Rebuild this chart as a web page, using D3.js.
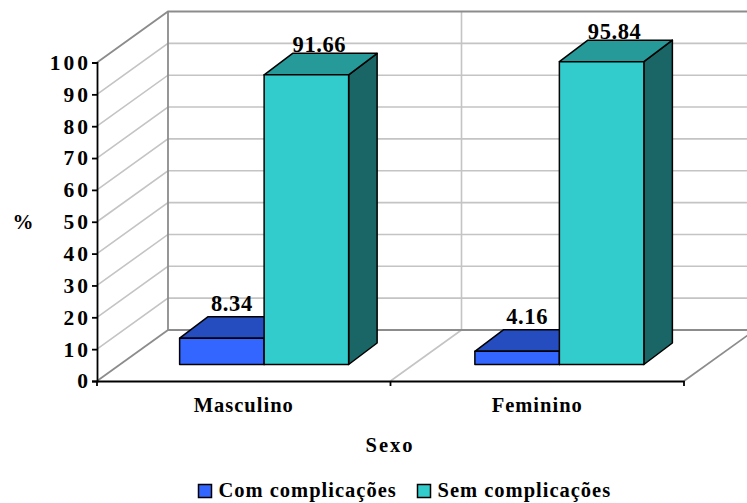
<!DOCTYPE html>
<html>
<head>
<meta charset="utf-8">
<script src="https://cdn.jsdelivr.net/npm/d3@7"></script>
<style>
html, body { margin: 0; padding: 0; background: #fff; }
svg { display: block; }
text { font-family: "Liberation Serif", serif; font-weight: bold; fill: #000; }
</style>
</head>
<body>
<svg id="chart" width="747" height="503"></svg>
<script>
const categories = ["Masculino", "Feminino"];
const seriesNames = ["Com complicações", "Sem complicações"];
const comValues = [8.34, 4.16];
const semValues = [91.66, 95.84];
const valueLabels = [["8.34", "4.16"], ["91.66", "95.84"]];
const yTicks = [0, 10, 20, 30, 40, 50, 60, 70, 80, 90, 100];
const palette = [
  { front: "#3366ff", top: "#264dbf", side: "#1f3f9c" },
  { front: "#33cccc", top: "#269999", side: "#1a6666" }
];

const svg = d3.select("#chart");

// Box geometry of the pseudo-3D plot
const left = 97, right = 684, floorY = 381, topY = 62.5;
const depthX = 71, depthY = -51;
const barDepthX = 28.5, barDepthY = -21.5, barBase = 364.5;

const y = d3.scaleLinear().domain([0, 100]).range([floorY, topY]);
const x = d3.scaleBand().domain(categories).range([left, right]);
const barHeight = d3.scaleLinear().domain([0, 100]).range([0, 316]);
const barGroup = d3.scaleBand().domain(categories).range([116.5, 707]);
const seriesWidth = 84.5;

const GRID = "#c4c4c4", WALL = "#8c8c8c";
const walls = svg.append("g").attr("fill", "none");

// Gridlines on the side and back walls
yTicks.filter(t => t > 0 && t < 100).forEach(t => {
  walls.append("path")
    .attr("d", `M${left},${y(t)}L${left + depthX},${y(t) + depthY}H747`)
    .attr("stroke", GRID).attr("stroke-width", 1.6);
});

// Category divider across the floor and up the back wall
const mid = x(categories[1]);
walls.append("path")
  .attr("d", `M${mid},${floorY}L${mid + depthX},${floorY + depthY}V${topY + depthY}`)
  .attr("stroke", GRID).attr("stroke-width", 1.6);

// Wall and floor outline
walls.append("path")
  .attr("d", `M${left},${topY}L${left + depthX},${topY + depthY}H747`)
  .attr("stroke", WALL).attr("stroke-width", 1.8);
walls.append("path")
  .attr("d", `M${left + depthX},${topY + depthY}V${floorY + depthY}H747`)
  .attr("stroke", WALL).attr("stroke-width", 1.8);
walls.append("path")
  .attr("d", `M${left},${floorY}L${left + depthX},${floorY + depthY}`)
  .attr("stroke", WALL).attr("stroke-width", 1.8);
walls.append("path")
  .attr("d", `M${right},${floorY}L${right + depthX},${floorY + depthY}`)
  .attr("stroke", WALL).attr("stroke-width", 1.8);

// One cuboid per series and category
function cuboid(g, x0, x1, h, colors) {
  const t = barBase - h;
  const edge = { stroke: "#000", "stroke-width": 1.5, "stroke-linejoin": "round" };
  const face = (d, fill) => {
    const p = g.append("path").attr("d", d).attr("fill", fill);
    Object.entries(edge).forEach(([k, v]) => p.attr(k, v));
  };
  face(`M${x1},${barBase}V${t}l${barDepthX},${barDepthY}V${barBase + barDepthY}Z`, colors.side);
  face(`M${x0},${t}H${x1}l${barDepthX},${barDepthY}H${x0 + barDepthX}Z`, colors.top);
  face(`M${x0},${barBase}V${t}H${x1}V${barBase}Z`, colors.front);
}

const bars = svg.append("g");
const valueText = svg.append("g").attr("text-anchor", "middle")
  .style("font-size", "22.5px").style("letter-spacing", "0.6px");

[comValues, semValues].forEach((values, s) => {
  values.forEach((v, c) => {
    const centre = barGroup(categories[c]) + barGroup.bandwidth() / 2;
    const x0 = centre + (s - 1) * seriesWidth;
    const h = barHeight(v);
    cuboid(bars, x0, x0 + seriesWidth, h, palette[s]);
    valueText.append("text")
      .attr("x", x0 + seriesWidth / 2 + (s === 0 ? 10 : 13))
      .attr("y", barBase - h + barDepthY - (s === 0 ? 5.5 : 1.5))
      .text(valueLabels[s][c]);
  });
});
valueText.raise();

// Value axis
const yAxis = d3.axisLeft(y).tickValues(yTicks).tickSize(5).tickPadding(1);
const yG = svg.append("g").attr("transform", `translate(${left},0)`).call(yAxis);
yG.select(".domain").attr("stroke", "#000").attr("stroke-width", 1.8);
yG.selectAll(".tick line").attr("stroke", "#000").attr("stroke-width", 1.8);
yG.selectAll(".tick text")
  .style("font-family", '"Liberation Serif", serif').style("font-weight", "bold")
  .style("font-size", "21.5px").style("letter-spacing", "3px").attr("fill", "#000");

// Category axis
const xAxis = d3.axisBottom(x).tickSize(0).tickPadding(16);
const xG = svg.append("g").attr("transform", `translate(0,${floorY})`).call(xAxis);
xG.select(".domain").attr("stroke", "#000").attr("stroke-width", 1.8);
xG.selectAll(".tick text")
  .style("font-family", '"Liberation Serif", serif').style("font-weight", "bold")
  .style("font-size", "20.5px").style("letter-spacing", "1px").attr("fill", "#000");
[left, mid, right].forEach(px => {
  xG.append("line").attr("x1", px).attr("x2", px).attr("y1", 0).attr("y2", 5)
    .attr("stroke", "#000").attr("stroke-width", 1.8);
});

// Axis titles
svg.append("text").attr("x", 23).attr("y", 229).attr("text-anchor", "middle")
  .style("font-size", "21px").text("%");
svg.append("text").attr("x", 390).attr("y", 452).attr("text-anchor", "middle")
  .style("font-size", "20.5px").style("letter-spacing", "2px").text("Sexo");

// Legend
const legendX = [198.5, 417.5];
seriesNames.forEach((name, i) => {
  svg.append("rect").attr("x", legendX[i]).attr("y", 484.5).attr("width", 13).attr("height", 13)
    .attr("fill", palette[i].front).attr("stroke", "#000").attr("stroke-width", 1.5);
  svg.append("text").attr("x", legendX[i] + 20).attr("y", 497)
    .style("font-size", "20.5px").style("letter-spacing", "1px").text(name);
});
</script>
</body>
</html>
